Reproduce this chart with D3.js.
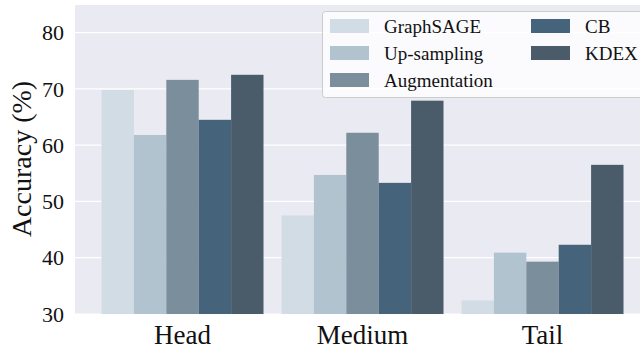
<!DOCTYPE html>
<html>
<head>
<meta charset="utf-8">
<script src="https://cdn.jsdelivr.net/npm/d3@7"></script>
<style>
  body { margin: 0; background: #fff; }
  svg { display: block; font-family: "Liberation Serif", "Times New Roman", serif; }
</style>
</head>
<body>
<svg id="chart"></svg>
<script>
// 数据
const groups = ["Head", "Medium", "Tail"];
const methods = ["GraphSAGE", "Up-sampling", "Augmentation", "CB", "KDEX"];
const colors = ["#d1dce5", "#b0c3cf", "#7b8e9b", "#45637a", "#4a5b69"];
const accGraphSAGE = [69.8, 47.5, 32.4];
const accUpSampling = [61.8, 54.7, 40.9];
const accAugmentation = [71.6, 62.2, 39.3];
const accCB = [64.5, 53.3, 42.3];
const accKDEX = [72.5, 67.9, 56.5];
const yTicks = [30, 40, 50, 60, 70, 80];

const seriesValues = [accGraphSAGE, accUpSampling, accAugmentation, accCB, accKDEX];

const width = 640, height = 353;
const marginLeft = 75, marginTop = 5, marginBottom = 39;
const plotRight = 650; // 绘图区右边被图片裁掉

const svg = d3.select("#chart")
    .attr("width", width)
    .attr("height", height)
    .attr("viewBox", [0, 0, width, height]);

const x0 = d3.scaleBand()
    .domain(groups)
    .range([marginLeft + 17.5, plotRight - 17.5])
    .paddingInner(0.1)
    .paddingOuter(0.05);
const x1 = d3.scaleBand()
    .domain(methods)
    .range([0, x0.bandwidth()]);
const y = d3.scaleLinear()
    .domain([30, 84.9])
    .range([height - marginBottom, marginTop]);

// 背景
svg.append("rect")
    .attr("x", marginLeft)
    .attr("y", marginTop)
    .attr("width", plotRight - marginLeft)
    .attr("height", y(30) - marginTop)
    .attr("fill", "#eaeaf2");

// 网格线
svg.append("g")
  .selectAll("line")
  .data(yTicks)
  .join("line")
    .attr("x1", marginLeft)
    .attr("x2", plotRight)
    .attr("y1", d => y(d))
    .attr("y2", d => y(d))
    .attr("stroke", "#fff")
    .attr("stroke-width", 1.2);

// 柱子
const rows = groups.map((g, i) => ({group: g, values: methods.map((m, j) => ({method: m, value: seriesValues[j][i], color: colors[j]}))}));

svg.append("g")
  .selectAll("g")
  .data(rows)
  .join("g")
    .attr("transform", d => `translate(${x0(d.group)},0)`)
  .selectAll("rect")
  .data(d => d.values)
  .join("rect")
    .attr("x", d => x1(d.method))
    .attr("y", d => y(d.value))
    .attr("width", x1.bandwidth())
    .attr("height", d => y(30) - y(d.value))
    .attr("fill", d => d.color);

// y轴刻度
svg.append("g")
    .attr("font-size", 22)
    .attr("fill", "#111")
  .selectAll("text")
  .data(yTicks)
  .join("text")
    .attr("x", 64)
    .attr("y", d => y(d))
    .attr("dy", "0.35em")
    .attr("text-anchor", "end")
    .text(d => d);

// x轴标签
svg.append("g")
    .attr("font-size", 27)
    .attr("fill", "#111")
  .selectAll("text")
  .data(groups)
  .join("text")
    .attr("x", d => x0(d) + x0.bandwidth() / 2)
    .attr("y", 344)
    .attr("text-anchor", "middle")
    .text(d => d);

// y轴标题
svg.append("text")
    .attr("transform", `translate(31,${(78 + 240) / 2}) rotate(-90)`)
    .attr("text-anchor", "middle")
    .attr("font-size", 28)
    .attr("fill", "#111")
    .text("Accuracy (%)");

// 图例
const legend = svg.append("g");
legend.append("rect")
    .attr("x", 322.5)
    .attr("y", 11.5)
    .attr("width", 330)
    .attr("height", 86)
    .attr("rx", 3)
    .attr("fill", "#fff")
    .attr("fill-opacity", 0.8)
    .attr("stroke", "#cccccc");

const items = methods.map((m, i) => ({name: m, color: colors[i], col: i < 3 ? 0 : 1, row: i < 3 ? i : i - 3}));
const item = legend.selectAll(".item")
  .data(items)
  .join("g")
    .attr("class", "item")
    .attr("transform", d => `translate(${d.col ? 531 : 330},${26 + d.row * 27})`);
item.append("rect")
    .attr("x", 0)
    .attr("y", -7)
    .attr("width", 39)
    .attr("height", 14)
    .attr("fill", d => d.color);
item.append("text")
    .attr("x", 54)
    .attr("y", 0)
    .attr("dy", "0.35em")
    .attr("font-size", 19)
    .attr("fill", "#111")
    .text(d => d.name);
</script>
</body>
</html>
